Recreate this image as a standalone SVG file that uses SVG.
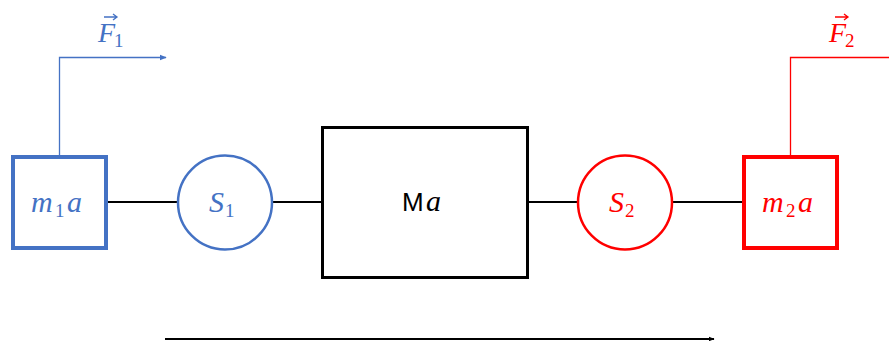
<svg xmlns="http://www.w3.org/2000/svg" width="889" height="341" viewBox="0 0 889 341">
<style>
.blue{stroke:#4472C4;fill:none}
.red{stroke:#FF0000;fill:none}
.math{font-family:"Liberation Serif","DejaVu Serif",serif;font-style:italic;font-size:30px}
.f{font-size:28px}
.sub{font-size:19px;font-style:normal}
.bt{fill:#4472C4}
.rt{fill:#FF0000}
</style>
<defs>
<marker id="ab" viewBox="0 0 10 10" refX="9" refY="5" markerWidth="7" markerHeight="7" orient="auto" markerUnits="userSpaceOnUse"><path d="M0,1 L10,5 L0,9 z" fill="#4472C4"/></marker>
<marker id="ak" viewBox="0 0 10 10" refX="9" refY="5" markerWidth="6" markerHeight="6" orient="auto" markerUnits="userSpaceOnUse"><path d="M0,1 L10,5 L0,9 z" fill="#000"/></marker>
</defs>
<rect width="889" height="341" fill="#fff"/>
<g id="connectors">
<line x1="108" y1="202" x2="178" y2="202" stroke="#000" stroke-width="2"/>
<line x1="272" y1="202" x2="322" y2="202" stroke="#000" stroke-width="2"/>
<line x1="527" y1="202" x2="578" y2="202" stroke="#000" stroke-width="2"/>
<line x1="672" y1="202" x2="742" y2="202" stroke="#000" stroke-width="2"/>
<polyline class="blue" stroke-width="1.3" points="59.5,155 59.5,57.5 166,57.5" marker-end="url(#ab)"/>
<polyline class="red" stroke-width="1.3" points="790.5,155 790.5,57.5 889,57.5"/>
<line x1="165" y1="339" x2="714" y2="339" stroke="#000" stroke-width="2" marker-end="url(#ak)"/>
</g>
<g id="F1">
<text class="math f bt" x="98" y="42">F<tspan class="sub" x="114" y="47">1</tspan></text>
<path d="M104,17 H116 M113,14 L117,17 L113,20" stroke="#4472C4" stroke-width="1.3" fill="none"/>
</g>
<g id="F2">
<text class="math f rt" x="829" y="42">F<tspan class="sub" x="845" y="47">2</tspan></text>
<path d="M835,17 H847 M844,14 L848,17 L844,20" stroke="#FF0000" stroke-width="1.3" fill="none"/>
</g>
<g id="m1a">
<rect class="blue" x="13" y="157" width="93" height="91" stroke-width="4"/>
<text class="math bt" x="31" y="212">m<tspan class="sub" x="55" y="217">1</tspan><tspan x="67" y="212">a</tspan></text>
</g>
<g id="S1">
<circle class="blue" cx="225" cy="202.5" r="47" stroke-width="2.5"/>
<text class="math bt" x="209" y="212">S<tspan class="sub" x="225" y="217">1</tspan></text>
</g>
<g id="Ma">
<rect x="322.5" y="127.5" width="205" height="150" fill="none" stroke="#000" stroke-width="3"/>
<text y="211" font-size="26" fill="#000"><tspan x="402" font-family="Liberation Sans, sans-serif">M</tspan><tspan class="math" x="426">a</tspan></text>
</g>
<g id="S2">
<circle class="red" cx="625" cy="202.5" r="47" stroke-width="2.5"/>
<text class="math rt" x="609" y="212">S<tspan class="sub" x="625" y="217">2</tspan></text>
</g>
<g id="m2a">
<rect class="red" x="744" y="157" width="93" height="91" stroke-width="4"/>
<text class="math rt" x="762" y="212">m<tspan class="sub" x="786" y="217">2</tspan><tspan x="798" y="212">a</tspan></text>
</g>
</svg>
